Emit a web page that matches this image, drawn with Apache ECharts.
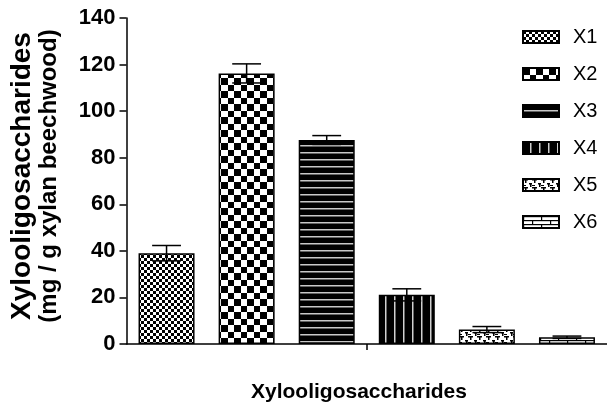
<!DOCTYPE html>
<html>
<head>
<meta charset="utf-8">
<script src="https://cdn.jsdelivr.net/npm/echarts@6/dist/echarts.min.js"></script>
<style>
html, body { margin: 0; padding: 0; background: #fff; }
#chart { width: 607px; height: 402px; }
</style>
</head>
<body>
<div id="chart"></div>
<script>
// data
var names = ['X1', 'X2', 'X3', 'X4', 'X5', 'X6'];
var means = [39.0, 116.2, 87.6, 21.1, 6.2, 2.9];
var errs = [3.3, 4.1, 1.9, 2.6, 1.3, 0.5];
var yTicks = [0, 20, 40, 60, 80, 100, 120, 140];

var FONT = 'Arial, "Liberation Sans", sans-serif';

// pattern tiles
function tile(w, h, draw) {
    var c = document.createElement('canvas');
    c.width = w;
    c.height = h;
    var ctx = c.getContext('2d');
    ctx.fillStyle = '#fff';
    ctx.fillRect(0, 0, w, h);
    draw(ctx);
    return { image: c, repeat: 'repeat' };
}

var patterns = [
    // fine checkerboard
    tile(6, 6, function(ctx) {
        ctx.fillStyle = '#000';
        ctx.fillRect(0, 0, 3, 3);
        ctx.fillRect(3, 3, 3, 3);
    }),
    // large checkerboard
    tile(13, 13, function(ctx) {
        ctx.fillStyle = '#000';
        ctx.fillRect(0, 0, 7, 7);
        ctx.fillRect(7, 7, 6, 6);
    }),
    // black, thin horizontal lines
    tile(8, 7, function(ctx) {
        ctx.fillStyle = '#000';
        ctx.fillRect(0, 0, 8, 7);
        ctx.fillStyle = '#c8c8c8';
        ctx.fillRect(0, 5, 8, 1.5);
    }),
    // black, thin vertical lines
    tile(9, 8, function(ctx) {
        ctx.fillStyle = '#000';
        ctx.fillRect(0, 0, 9, 8);
        ctx.fillStyle = '#d0d0d0';
        ctx.fillRect(7, 0, 1.5, 8);
    }),
    // dashed bricks
    tile(9, 8, function(ctx) {
        ctx.fillStyle = '#000';
        ctx.fillRect(0, 0, 5, 1.5);
        ctx.fillRect(6, 4, 3, 1.5);
        ctx.fillRect(2, 1, 1.5, 3);
        ctx.fillRect(7, 4, 1.5, 4);
        ctx.fillRect(0, 6, 3, 1);
    }),
    // bricks
    tile(18, 8, function(ctx) {
        ctx.fillStyle = '#000';
        ctx.fillRect(0, 0, 18, 1.2);
        ctx.fillRect(0, 4, 18, 1.2);
        ctx.fillRect(0, 0, 1.2, 4);
        ctx.fillRect(9, 4, 1.2, 4);
    })
];

var series = names.map(function(n, i) {
    return {
        name: n,
        type: 'bar',
        xAxisIndex: 0,
        barWidth: 56,
        barGap: '-100%',
        data: means.map(function(v, j) { return j === i ? v : '-'; }),
        itemStyle: {
            color: patterns[i],
            borderColor: '#000',
            borderWidth: 1.5
        },
        emphasis: { disabled: true }
    };
});

// error bars
series.push({
    type: 'custom',
    xAxisIndex: 0,
    z: 5,
    data: means.map(function(v, i) { return [i, v, errs[i]]; }),
    renderItem: function(params, api) {
        var i = api.value(0), v = api.value(1), e = api.value(2);
        var top = api.coord([i, v + e]);
        var bot = api.coord([i, v - e]);
        var half = api.size([1, 0])[0] * 0.18;
        var st = { stroke: '#000', lineWidth: 1.5 };
        return {
            type: 'group',
            children: [
                { type: 'line', shape: { x1: top[0], y1: top[1], x2: bot[0], y2: bot[1] }, style: st },
                { type: 'line', shape: { x1: top[0] - half, y1: top[1], x2: top[0] + half, y2: top[1] }, style: st },
                { type: 'line', shape: { x1: bot[0] - half, y1: bot[1], x2: bot[0] + half, y2: bot[1] }, style: st }
            ]
        };
    }
});

var myChart = echarts.init(document.getElementById('chart'));
var option = {
    backgroundColor: '#fff',
    animation: false,
    title: {
        text: 'Xylooligosaccharides',
        left: 246,
        top: 377,
        textStyle: { fontFamily: FONT, fontSize: 21, fontWeight: 'bold', color: '#000' }
    },
    legend: {
        data: names,
        icon: 'rect',
        orient: 'vertical',
        left: 517,
        top: 22,
        itemWidth: 36,
        itemHeight: 12,
        itemGap: 17,
        selectedMode: false,
        textStyle: {
            fontFamily: FONT,
            fontSize: 20,
            color: '#000',
            padding: [0, 0, 0, 9]
        }
    },
    grid: { left: 123, right: -7, top: 18, bottom: 58 },
    xAxis: [{
        type: 'category',
        data: names,
        axisLine: { lineStyle: { color: '#000', width: 1.5 } },
        axisTick: { show: false },
        axisLabel: { show: false }
    }, {
        type: 'category',
        data: [''],
        position: 'bottom',
        axisLine: { show: false },
        axisTick: { show: true, alignWithLabel: true, length: 6, lineStyle: { color: '#000', width: 1.5 } },
        axisLabel: { show: false }
    }],
    yAxis: {
        type: 'value',
        min: yTicks[0],
        max: yTicks[yTicks.length - 1],
        interval: 20,
        name: '{a|Xylooligosaccharides}\n{b|(mg / g xylan beechwood)}',
        nameLocation: 'middle',
        nameGap: 64,
        nameTextStyle: {
            padding: [0, 0, 0, 10],
            rich: {
                a: { fontFamily: FONT, fontSize: 28, fontWeight: 'bold', color: '#000', lineHeight: 27 },
                b: { fontFamily: FONT, fontSize: 24, fontWeight: 'bold', color: '#000', lineHeight: 27 }
            }
        },
        axisLine: { show: true, lineStyle: { color: '#000', width: 1.5 } },
        axisTick: { show: true, length: 7, lineStyle: { color: '#000', width: 1.5 } },
        axisLabel: { fontFamily: FONT, fontSize: 22, fontWeight: 'bold', color: '#000', margin: 11 },
        splitLine: { show: false }
    },
    series: series
};
myChart.setOption(option);
</script>
</body>
</html>
